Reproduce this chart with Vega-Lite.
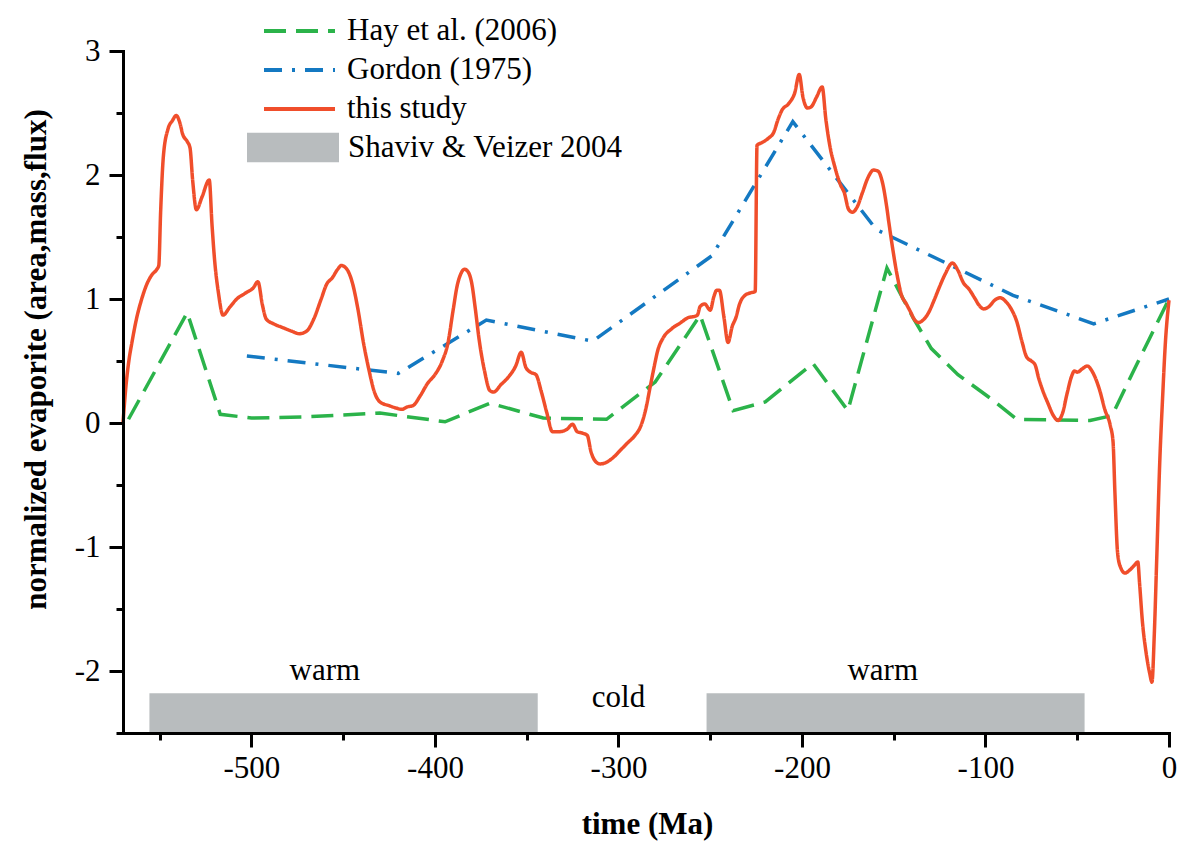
{
  "$schema": "https://vega.github.io/schema/vega-lite/v6.json",
  "width": 1046,
  "height": 682,
  "autosize": {"type": "none"},
  "padding": {"left": 123, "top": 51, "right": 10, "bottom": 108},
  "background": "#ffffff",
  "config": {
    "view": {"stroke": null},
    "font": "Liberation Serif",
    "axis": {
      "domainColor": "#000000", "domainWidth": 3, "domainCap": "square",
      "tickColor": "#000000", "tickWidth": 3,
      "labelFont": "Liberation Serif", "labelFontSize": 31, "labelColor": "#000000",
      "titleFont": "Liberation Serif", "titleFontSize": 31, "titleFontWeight": "bold", "titleColor": "#000000",
      "grid": false, "labelFlush": false, "labelOverlap": false
    }
  },
  "datasets": {
    "periods": [
      {"start": -555.6, "end": -344, "source": "Shaviv & Veizer 2004"},
      {"start": -252, "end": -46, "source": "Shaviv & Veizer 2004"}
    ],
    "labels": [
      {"t": -460, "v": -2.07, "label": "warm"},
      {"t": -300, "v": -2.29, "label": "cold"},
      {"t": -156, "v": -2.07, "label": "warm"}
    ],
    "hay": [
      {"t": -567, "v": 0.03}, {"t": -535, "v": 0.89}, {"t": -517, "v": 0.07}, {"t": -500, "v": 0.04},
      {"t": -470, "v": 0.05}, {"t": -430, "v": 0.08}, {"t": -394.5, "v": 0.01}, {"t": -370, "v": 0.16},
      {"t": -341, "v": 0.04}, {"t": -306.5, "v": 0.03}, {"t": -280, "v": 0.33}, {"t": -255.5, "v": 0.87},
      {"t": -237.5, "v": 0.1}, {"t": -220, "v": 0.17}, {"t": -194, "v": 0.48}, {"t": -175, "v": 0.1},
      {"t": -153.7, "v": 1.25}, {"t": -139.5, "v": 0.85}, {"t": -129.5, "v": 0.6}, {"t": -115, "v": 0.39},
      {"t": -96.5, "v": 0.19}, {"t": -83, "v": 0.03}, {"t": -43, "v": 0.02}, {"t": -31, "v": 0.06},
      {"t": -20, "v": 0.4}, {"t": -11, "v": 0.67}, {"t": 0, "v": 1.0}
    ],
    "gordon": [
      {"t": -502.5, "v": 0.54}, {"t": -420, "v": 0.4}, {"t": -372, "v": 0.83}, {"t": -314, "v": 0.66},
      {"t": -249, "v": 1.35}, {"t": -205, "v": 2.43}, {"t": -159.5, "v": 1.56}, {"t": -85, "v": 1.03},
      {"t": -41, "v": 0.8}, {"t": 0, "v": 1.0}
    ],
    "study": [
      {"t": -570, "v": 0.0}, {"t": -568.5, "v": 0.28}, {"t": -567, "v": 0.48}, {"t": -565, "v": 0.66},
      {"t": -562.5, "v": 0.85}, {"t": -560, "v": 0.99}, {"t": -557, "v": 1.12}, {"t": -554, "v": 1.2},
      {"t": -551.5, "v": 1.24}, {"t": -550.5, "v": 1.27}, {"t": -549.5, "v": 1.7}, {"t": -548, "v": 2.15},
      {"t": -545.5, "v": 2.37}, {"t": -543, "v": 2.44}, {"t": -541, "v": 2.48}, {"t": -539, "v": 2.42},
      {"t": -537.5, "v": 2.33}, {"t": -535, "v": 2.27}, {"t": -533.5, "v": 2.22}, {"t": -532, "v": 1.95},
      {"t": -530, "v": 1.72}, {"t": -527, "v": 1.82}, {"t": -523, "v": 1.96}, {"t": -521.5, "v": 1.6},
      {"t": -520, "v": 1.3}, {"t": -518, "v": 1.05}, {"t": -515.5, "v": 0.87}, {"t": -512, "v": 0.93},
      {"t": -508, "v": 1.0}, {"t": -503, "v": 1.05}, {"t": -499, "v": 1.09}, {"t": -496.5, "v": 1.14},
      {"t": -494, "v": 0.95}, {"t": -492, "v": 0.84}, {"t": -488, "v": 0.8}, {"t": -483, "v": 0.77},
      {"t": -478, "v": 0.74}, {"t": -474, "v": 0.72}, {"t": -470, "v": 0.74}, {"t": -466, "v": 0.84},
      {"t": -462, "v": 1.0}, {"t": -459, "v": 1.12}, {"t": -456, "v": 1.17}, {"t": -453, "v": 1.24},
      {"t": -451, "v": 1.27}, {"t": -448, "v": 1.24}, {"t": -445, "v": 1.13}, {"t": -442, "v": 0.92},
      {"t": -439, "v": 0.65}, {"t": -436, "v": 0.43}, {"t": -433, "v": 0.25}, {"t": -430, "v": 0.17},
      {"t": -425, "v": 0.14}, {"t": -421, "v": 0.12}, {"t": -418, "v": 0.11}, {"t": -415, "v": 0.13},
      {"t": -412, "v": 0.14}, {"t": -408, "v": 0.22}, {"t": -404, "v": 0.32}, {"t": -400, "v": 0.39},
      {"t": -396, "v": 0.5}, {"t": -393, "v": 0.64}, {"t": -390, "v": 0.92}, {"t": -388, "v": 1.1},
      {"t": -386, "v": 1.2}, {"t": -384, "v": 1.24}, {"t": -382, "v": 1.22}, {"t": -380, "v": 1.13},
      {"t": -378, "v": 0.92}, {"t": -376, "v": 0.68}, {"t": -373, "v": 0.42}, {"t": -370, "v": 0.26},
      {"t": -368, "v": 0.25}, {"t": -364, "v": 0.31}, {"t": -360, "v": 0.37}, {"t": -356, "v": 0.46},
      {"t": -353, "v": 0.57}, {"t": -350.5, "v": 0.45}, {"t": -348, "v": 0.41}, {"t": -345, "v": 0.39},
      {"t": -342, "v": 0.25}, {"t": -339, "v": 0.08}, {"t": -336, "v": -0.07}, {"t": -332, "v": -0.07},
      {"t": -328, "v": -0.05}, {"t": -325, "v": -0.01}, {"t": -322.5, "v": -0.07}, {"t": -320, "v": -0.08},
      {"t": -317, "v": -0.1}, {"t": -315, "v": -0.23}, {"t": -312.5, "v": -0.31}, {"t": -310, "v": -0.33},
      {"t": -307, "v": -0.32}, {"t": -303, "v": -0.28}, {"t": -299, "v": -0.22}, {"t": -295, "v": -0.16},
      {"t": -291, "v": -0.1}, {"t": -288, "v": -0.03}, {"t": -285, "v": 0.12}, {"t": -283, "v": 0.27},
      {"t": -281, "v": 0.42}, {"t": -278.5, "v": 0.59}, {"t": -275.5, "v": 0.69}, {"t": -271, "v": 0.76},
      {"t": -266, "v": 0.81}, {"t": -262, "v": 0.85}, {"t": -258.5, "v": 0.86}, {"t": -257, "v": 0.87},
      {"t": -255.5, "v": 0.94}, {"t": -253, "v": 0.96}, {"t": -250, "v": 0.91}, {"t": -248, "v": 1.02},
      {"t": -246.5, "v": 1.07}, {"t": -245, "v": 1.07}, {"t": -242.5, "v": 0.85}, {"t": -240.3, "v": 0.65},
      {"t": -238, "v": 0.78}, {"t": -236, "v": 0.85}, {"t": -234, "v": 0.96}, {"t": -231, "v": 1.03},
      {"t": -228, "v": 1.05}, {"t": -225.5, "v": 1.06}, {"t": -224.5, "v": 2.24}, {"t": -222, "v": 2.26},
      {"t": -218, "v": 2.3}, {"t": -215.5, "v": 2.34}, {"t": -213, "v": 2.45}, {"t": -211, "v": 2.52},
      {"t": -207, "v": 2.58}, {"t": -204, "v": 2.66}, {"t": -201.5, "v": 2.81}, {"t": -199.5, "v": 2.63},
      {"t": -197, "v": 2.54}, {"t": -195, "v": 2.55}, {"t": -192, "v": 2.63}, {"t": -189, "v": 2.71},
      {"t": -187, "v": 2.45}, {"t": -185, "v": 2.25}, {"t": -182, "v": 2.06}, {"t": -179, "v": 1.92},
      {"t": -177, "v": 1.86}, {"t": -174.5, "v": 1.72}, {"t": -172.5, "v": 1.7}, {"t": -170, "v": 1.74},
      {"t": -167, "v": 1.86}, {"t": -164, "v": 1.98}, {"t": -161, "v": 2.04}, {"t": -158.5, "v": 2.03},
      {"t": -156, "v": 1.93}, {"t": -154, "v": 1.76}, {"t": -152.5, "v": 1.6}, {"t": -150.5, "v": 1.4},
      {"t": -148, "v": 1.18}, {"t": -145.5, "v": 1.02}, {"t": -143.5, "v": 0.97}, {"t": -141, "v": 0.9},
      {"t": -138.5, "v": 0.83}, {"t": -136.5, "v": 0.81}, {"t": -134, "v": 0.83}, {"t": -131, "v": 0.89},
      {"t": -128, "v": 0.99}, {"t": -125, "v": 1.1}, {"t": -122, "v": 1.2}, {"t": -118, "v": 1.29},
      {"t": -115, "v": 1.23}, {"t": -112, "v": 1.13}, {"t": -109, "v": 1.08}, {"t": -106, "v": 1.01},
      {"t": -103.5, "v": 0.95}, {"t": -101, "v": 0.92}, {"t": -98, "v": 0.94}, {"t": -95, "v": 0.99},
      {"t": -92, "v": 1.01}, {"t": -89, "v": 0.98}, {"t": -86, "v": 0.92}, {"t": -83, "v": 0.82},
      {"t": -80, "v": 0.65}, {"t": -77.5, "v": 0.53}, {"t": -75, "v": 0.5}, {"t": -73, "v": 0.47},
      {"t": -71, "v": 0.36}, {"t": -69, "v": 0.27}, {"t": -66, "v": 0.16}, {"t": -63, "v": 0.06},
      {"t": -60.5, "v": 0.02}, {"t": -58, "v": 0.08}, {"t": -55.5, "v": 0.24}, {"t": -53, "v": 0.38},
      {"t": -51.5, "v": 0.42}, {"t": -50, "v": 0.41}, {"t": -47, "v": 0.44}, {"t": -44.5, "v": 0.46},
      {"t": -42, "v": 0.42}, {"t": -39.5, "v": 0.34}, {"t": -37.5, "v": 0.25}, {"t": -35, "v": 0.11},
      {"t": -32, "v": -0.02}, {"t": -30.5, "v": -0.15}, {"t": -29.5, "v": -0.55}, {"t": -28, "v": -1.05},
      {"t": -26.5, "v": -1.16}, {"t": -24, "v": -1.21}, {"t": -21, "v": -1.18}, {"t": -19, "v": -1.15},
      {"t": -17, "v": -1.12}, {"t": -16, "v": -1.3}, {"t": -14.5, "v": -1.6}, {"t": -12.5, "v": -1.85},
      {"t": -10.5, "v": -2.02}, {"t": -9.3, "v": -2.09}, {"t": -8, "v": -1.7}, {"t": -6.7, "v": -1.1},
      {"t": -5, "v": -0.3}, {"t": -3.5, "v": 0.2}, {"t": -2, "v": 0.64}, {"t": 0, "v": 0.99}
    ]
  },
  "layer": [
    {
      "data": {"name": "periods"},
      "mark": {"type": "rect", "strokeWidth": 0},
      "encoding": {
        "x": {"field": "start", "type": "quantitative", "scale": {"domain": [-570, 0], "nice": false, "zero": false}, "axis": null},
        "x2": {"field": "end"},
        "y": {"datum": -2.18, "type": "quantitative", "scale": {"domain": [-2.5, 3], "nice": false, "zero": false}, "axis": null},
        "y2": {"datum": -2.5},
        "fill": {
          "field": "source", "type": "nominal",
          "scale": {"domain": ["Shaviv & Veizer 2004"], "range": ["#b8bcbe"]},
          "legend": {
            "orient": "none", "legendX": 124, "legendY": 77, "title": null, "padding": 0,
            "symbolType": "M-1,-0.32H1V0.32H-1Z", "symbolSize": 8464, "symbolStrokeWidth": 0,
            "clipHeight": 39, "rowPadding": 0,
            "labelFont": "Liberation Serif", "labelFontSize": 31, "labelColor": "#000000",
            "labelOffset": 9, "labelLimit": 0
          }
        }
      }
    },
    {
      "data": {"name": "labels"},
      "mark": {"type": "text", "font": "Liberation Serif", "fontSize": 31, "color": "#000000", "align": "center", "baseline": "alphabetic"},
      "encoding": {
        "x": {"field": "t", "type": "quantitative",
              "axis": {"orient": "bottom", "values": [-550, -450, -350, -250, -150, -50], "tickSize": 7, "labels": false, "domain": false, "title": null, "zindex": 1}},
        "y": {"field": "v", "type": "quantitative",
              "axis": {"orient": "left", "values": [-2.5, -1.5, -0.5, 0.5, 1.5, 2.5], "tickSize": 7, "labels": false, "domain": false, "title": null, "zindex": 1}},
        "text": {"field": "label"}
      }
    },
    {
      "data": {"name": "hay"},
      "transform": [{"calculate": "'Hay et al. (2006)'", "as": "series"}],
      "mark": {"type": "line", "strokeWidth": 3.5, "interpolate": "linear"},
      "encoding": {
        "x": {"field": "t", "type": "quantitative", "axis": null},
        "y": {"field": "v", "type": "quantitative", "axis": null},
        "color": {"field": "series", "type": "nominal"},
        "strokeDash": {"field": "series", "type": "nominal"}
      }
    },
    {
      "data": {"name": "gordon"},
      "transform": [{"calculate": "'Gordon (1975)'", "as": "series"}],
      "mark": {"type": "line", "strokeWidth": 3.5, "interpolate": "linear"},
      "encoding": {
        "x": {"field": "t", "type": "quantitative", "axis": null},
        "y": {"field": "v", "type": "quantitative", "axis": null},
        "color": {"field": "series", "type": "nominal"},
        "strokeDash": {"field": "series", "type": "nominal"}
      }
    },
    {
      "data": {"name": "study"},
      "transform": [{"calculate": "'this study'", "as": "series"}],
      "mark": {"type": "line", "strokeWidth": 3.5, "interpolate": "monotone"},
      "encoding": {
        "x": {"field": "t", "type": "quantitative",
              "axis": {"orient": "bottom", "values": [-500, -400, -300, -200, -100, 0], "tickSize": 14, "labelPadding": 6,
                       "labelExpr": "datum.value < 0 ? '-' + abs(datum.value) : '' + datum.value",
                       "title": "time (Ma)", "titleX": 524, "titleY": 100, "titleBaseline": "alphabetic", "zindex": 1}},
        "y": {"field": "v", "type": "quantitative",
              "axis": {"orient": "left", "values": [-2, -1, 0, 1, 2, 3], "tickSize": 14, "labelPadding": 9,
                       "labelExpr": "datum.value < 0 ? '-' + abs(datum.value) : '' + datum.value",
                       "title": "normalized evaporite (area,mass,flux)", "titleX": -78, "titleY": 308, "titleBaseline": "alphabetic", "zindex": 1}},
        "color": {
          "field": "series", "type": "nominal",
          "scale": {"domain": ["Hay et al. (2006)", "Gordon (1975)", "this study"], "range": ["#2bb34a", "#1479c2", "#f04e2b"]},
          "legend": {
            "orient": "none", "legendX": 139, "legendY": -39.5, "title": null, "padding": 0,
            "symbolType": "stroke", "symbolSize": 5041, "symbolStrokeWidth": 4,
            "clipHeight": 39, "rowPadding": 0,
            "labelFont": "Liberation Serif", "labelFontSize": 31, "labelColor": "#000000",
            "labelOffset": 10, "labelLimit": 0
          }
        },
        "strokeDash": {
          "field": "series", "type": "nominal",
          "scale": {"domain": ["Hay et al. (2006)", "Gordon (1975)", "this study"], "range": [[22, 10], [18, 10, 3, 10], [1, 0]]}
        }
      }
    }
  ],
  "resolve": {"axis": {"x": "independent", "y": "independent"}}
}
